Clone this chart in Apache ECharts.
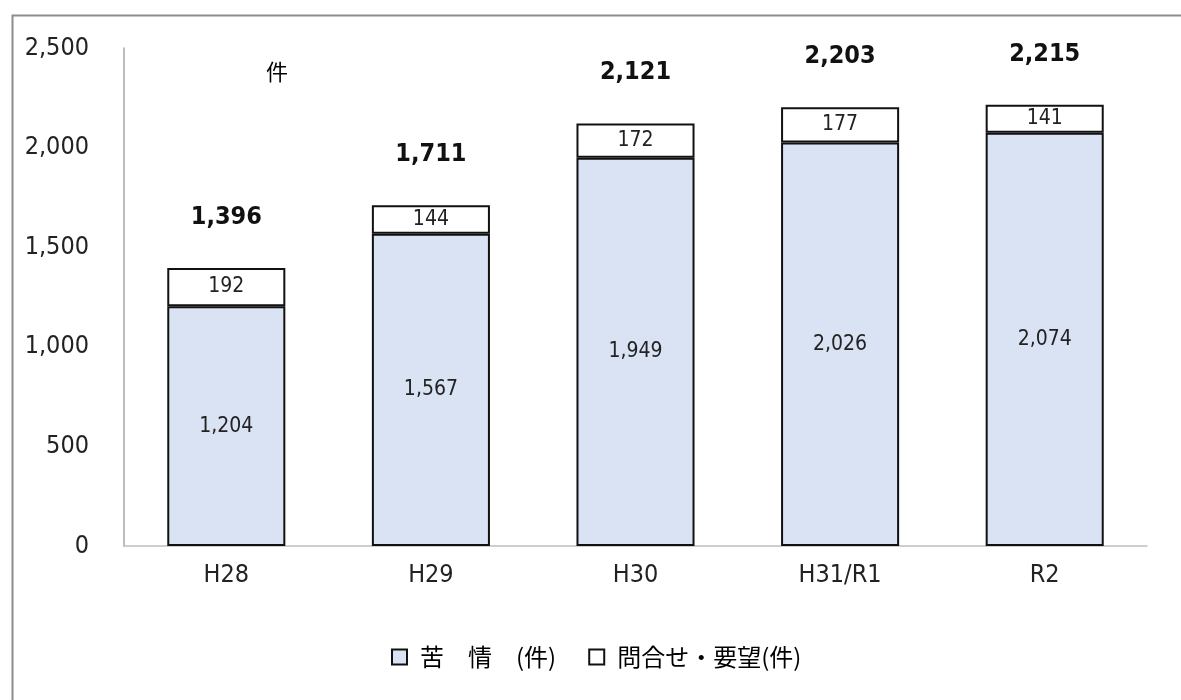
<!DOCTYPE html>
<html><head><meta charset="utf-8">
<script src="https://cdn.jsdelivr.net/npm/echarts@6/dist/echarts.min.js"></script>
<style>html,body{margin:0;padding:0;background:#fff}#c{width:1181px;height:700px}</style>
</head><body><div id="c"></div>
<script>
const categories = ['H28', 'H29', 'H30', 'H31/R1', 'R2'];
const complaints = [1204, 1567, 1949, 2026, 2074];
const inquiries = [192, 144, 172, 177, 141];
const totals = [1396, 1711, 2121, 2203, 2215];
const yTicks = [0, 500, 1000, 1500, 2000, 2500];
const seriesNames = ['苦　情　(件)', '問合せ・要望(件)'];

const NUM = '"DejaVu Sans Condensed", "Noto Sans CJK JP", sans-serif';
const CJK = '"Noto Sans CJK JP", "Noto Sans", sans-serif';
const fmt = v => v.toLocaleString('en-US');
const chart = echarts.init(document.getElementById('c'), null, {renderer: 'canvas'});
chart.setOption({
  animation: false,
  backgroundColor: '#fff',
  textStyle: {fontFamily: NUM},
  graphic: [{
    type: 'rect', left: 10, top: 13, silent: true,
    shape: {width: 1170, height: 700},
    style: {fill: 'none', stroke: '#8c8c8c', lineWidth: 2}
  }, {
    type: 'text', left: 266, top: 61,
    style: {text: '件', font: '22px ' + CJK, fill: '#000'}
  }],
  grid: {left: 124, right: 34, top: 48, bottom: 154},
  legend: {
    bottom: 26, left: 386, itemGap: 32, itemWidth: 15, itemHeight: 15,
    textStyle: {fontSize: 24, color: '#000', fontFamily: CJK, padding: [0, 0, 0, 8]},
    data: seriesNames.map(n => ({name: n, icon: 'rect'}))
  },
  xAxis: {
    type: 'category', data: categories,
    axisLine: {lineStyle: {color: '#bfbfbf', width: 1.5}},
    axisTick: {show: false},
    axisLabel: {fontSize: 25, color: '#222', margin: 17, fontFamily: NUM}
  },
  yAxis: {
    type: 'value', min: yTicks[0], max: yTicks[yTicks.length - 1], interval: 500,
    splitLine: {show: false},
    axisLine: {show: true, lineStyle: {color: '#a6a6a6', width: 1.5}},
    axisTick: {show: false},
    axisLabel: {fontSize: 25, color: '#222', margin: 35, fontFamily: NUM, formatter: v => fmt(v)}
  },
  series: [{
    name: seriesNames[0], type: 'bar', stack: 's', barWidth: '57.7%',
    data: complaints,
    itemStyle: {color: '#dae3f3', borderColor: '#111', borderWidth: 2},
    label: {show: true, position: 'inside', fontSize: 21, color: '#222', fontFamily: NUM, formatter: p => fmt(p.value)}
  }, {
    name: seriesNames[1], type: 'bar', stack: 's',
    data: inquiries,
    itemStyle: {color: '#fff', borderColor: '#111', borderWidth: 2},
    label: {show: true, position: 'inside', fontSize: 21, color: '#222', fontFamily: NUM, formatter: p => fmt(p.value)}
  }, {
    name: 'total', type: 'bar', stack: 's',
    data: totals.map(() => 0),
    itemStyle: {color: 'transparent'},
    label: {show: true, position: 'top', distance: 38, fontSize: 25, fontWeight: 'bold', color: '#111', fontFamily: NUM,
      formatter: p => fmt(totals[p.dataIndex])}
  }]
});
</script></body></html>
